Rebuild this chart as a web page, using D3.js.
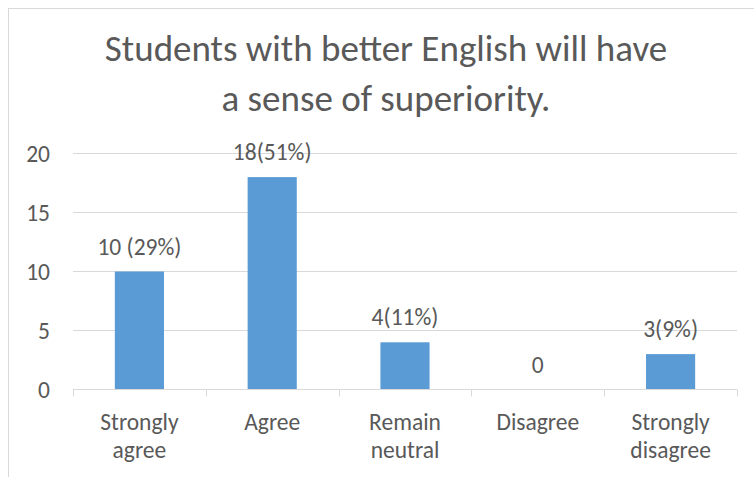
<!DOCTYPE html>
<html>
<head>
<meta charset="utf-8">
<script src="https://cdn.jsdelivr.net/npm/d3@7"></script>
<style>
  html, body { margin: 0; padding: 0; background: #ffffff; }
  svg { display: block; }
  text { font-family: Carlito, Calibri, Lato, sans-serif; fill: #595959; }
</style>
</head>
<body>
<svg id="chart" width="754" height="477"></svg>
<script>
// Survey responses
const titleLines = ["Students with better English will have", "a sense of superiority."];
const categories = ["Strongly agree", "Agree", "Remain neutral", "Disagree", "Strongly disagree"];
const counts = [10, 18, 4, 0, 3];
const valueLabels = ["10 (29%)", "18(51%)", "4(11%)", "0", "3(9%)"];
const yTicks = [0, 5, 10, 15, 20];

const svg = d3.select("#chart");
const labelSize = "23.5px";

// chart frame
svg.append("rect")
  .attr("x", 8.5).attr("y", 8.5)
  .attr("width", 756).attr("height", 490)
  .attr("fill", "#ffffff")
  .attr("stroke", "#d9d9d9")
  .attr("stroke-width", 1);

// title
const title = svg.append("text")
  .attr("text-anchor", "middle")
  .style("font-size", "37px");
titleLines.forEach((t, i) => {
  title.append("tspan").attr("x", 386).attr("y", 61 + i * 50).text(t);
});

// scales
const plotLeft = 73, plotRight = 737;
const x = d3.scaleBand()
  .domain(categories)
  .range([plotLeft, plotRight])
  .paddingInner(0.63)
  .paddingOuter(0.315);

const y = d3.scaleLinear()
  .domain([0, 20])
  .range([389.5, 153.5]);

// horizontal gridlines
svg.append("g")
  .selectAll("line")
  .data(yTicks.filter(d => d > 0))
  .join("line")
  .attr("x1", plotLeft).attr("x2", plotRight)
  .attr("y1", d => y(d)).attr("y2", d => y(d))
  .attr("stroke", "#d9d9d9")
  .attr("stroke-width", 1);

// y axis labels
svg.append("g")
  .selectAll("text")
  .data(yTicks)
  .join("text")
  .attr("x", 50)
  .attr("y", d => y(d))
  .attr("dy", "0.35em")
  .attr("text-anchor", "end")
  .style("font-size", labelSize)
  .text(d => d);

// bars
svg.append("g")
  .selectAll("rect")
  .data(counts)
  .join("rect")
  .attr("x", (d, i) => x(categories[i]))
  .attr("width", x.bandwidth())
  .attr("y", d => y(d))
  .attr("height", d => y(0) - y(d))
  .attr("fill", "#5b9bd5");

// category axis line and ticks at band boundaries
const half = (x.step() - x.bandwidth()) / 2;
const bounds = categories.map(c => x(c) - half).concat([x(categories[categories.length - 1]) + x.bandwidth() + half]);
const axis = svg.append("g");
axis.append("line")
  .attr("x1", plotLeft).attr("x2", plotRight)
  .attr("y1", y(0)).attr("y2", y(0))
  .attr("stroke", "#d9d9d9");
axis.selectAll("line.tick")
  .data(bounds)
  .join("line")
  .attr("class", "tick")
  .attr("x1", d => Math.round(d) + 0.5).attr("x2", d => Math.round(d) + 0.5)
  .attr("y1", y(0)).attr("y2", y(0) + 7)
  .attr("stroke", "#d9d9d9");

// category labels, one word per line when wrapped
const catText = axis.selectAll("text.cat")
  .data(categories)
  .join("text")
  .attr("class", "cat")
  .attr("text-anchor", "middle")
  .style("font-size", labelSize);
catText.each(function(c) {
  const words = c.split(" ");
  const cx = x(c) + x.bandwidth() / 2;
  words.forEach((w, j) => {
    d3.select(this).append("tspan")
      .attr("x", cx)
      .attr("y", 430 + j * 28)
      .text(w);
  });
});

// value labels above bars
svg.append("g")
  .selectAll("text")
  .data(counts)
  .join("text")
  .attr("x", (d, i) => x(categories[i]) + x.bandwidth() / 2)
  .attr("y", d => y(d) - 17)
  .attr("text-anchor", "middle")
  .style("font-size", labelSize)
  .text((d, i) => valueLabels[i]);
</script>
</body>
</html>
